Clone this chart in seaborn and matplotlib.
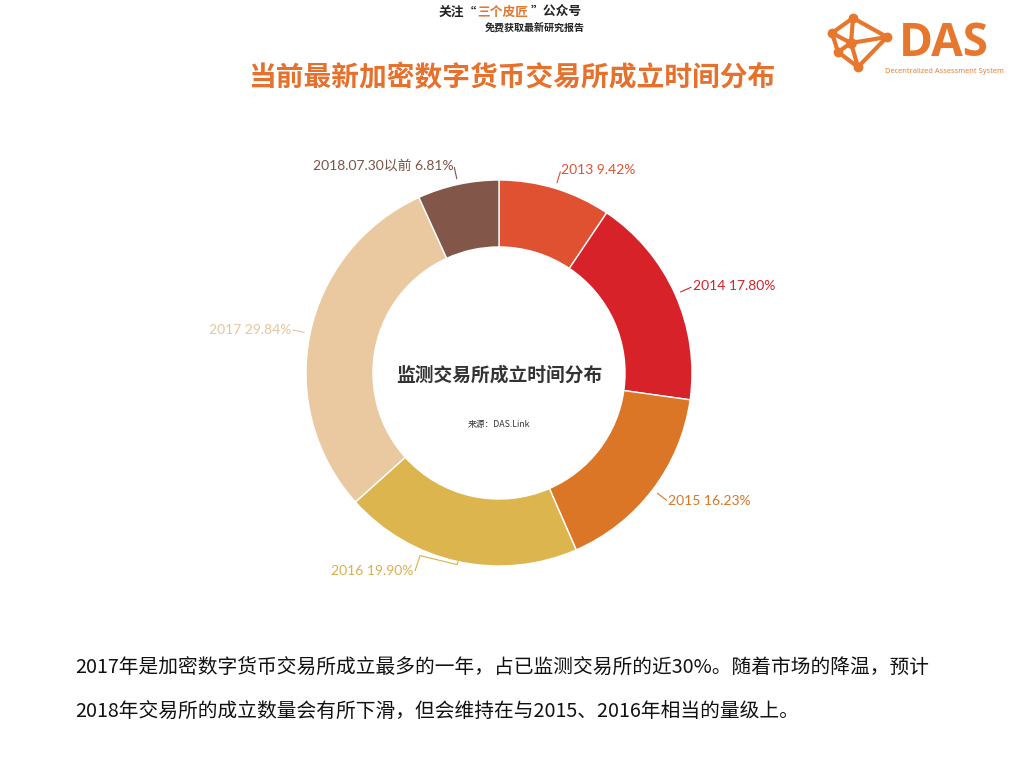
import numpy as np
import matplotlib
matplotlib.use("Agg")
import matplotlib.pyplot as plt
import seaborn as sns

# ---------------- data ----------------
categories = ["2013", "2014", "2015", "2016", "2017", "2018.07.30以前"]
shares = [9.42, 17.80, 16.23, 19.90, 29.84, 6.81]
slice_colors = ["#E05132", "#D62228", "#DB7627", "#DDB54F", "#EBC9A0", "#82574A"]
label_colors = ["#E05132", "#D62228", "#DB7627", "#D8B04E", "#E8C49C", "#7A5446"]

title = "当前最新加密数字货币交易所成立时间分布"
center_title = "监测交易所成立时间分布"
center_source = "来源：DAS.Link"
header_parts = ["关注“", "三个皮匠", "”公众号"]
header_line2 = "免费获取最新研究报告"
logo_word = "DAS"
logo_sub = "Decentralized Assessment System"
paragraph = [
    "2017年是加密数字货币交易所成立最多的一年，占已监测交易所的近30%。随着市场的降温，预计",
    "2018年交易所的成立数量会有所下滑，但会维持在与2015、2016年相当的量级上。",
]

# ---------------- style ----------------
sns.set_theme(style="white")
plt.rcParams["font.family"] = ["Noto Sans CJK SC", "DejaVu Sans"]

W, H = 1024, 779
fig = plt.figure(figsize=(W / 100, H / 100), dpi=100)
fig.patch.set_facecolor("white")

# overlay axes in pixel coordinates for page texts / logo
ov = fig.add_axes([0, 0, 1, 1])
ov.set_xlim(0, W)
ov.set_ylim(H, 0)
ov.axis("off")

ORANGE = "#E5712C"

# header
ov.text(477, 12, header_parts[0], ha="right", va="center", fontsize=9.2,
        fontweight="bold", color="#222222")
ov.text(477, 12, header_parts[1], ha="left", va="center", fontsize=9.2,
        fontweight="bold", color="#E0782E")
ov.text(531, 12, header_parts[2], ha="left", va="center", fontsize=9.2,
        fontweight="bold", color="#222222")
ov.text(585, 27, header_line2, ha="right", va="center", fontsize=7.2,
        fontweight="bold", color="#222222")

# title
ov.text(512, 78, title, ha="center", va="center", fontsize=20,
        fontweight="bold", color=ORANGE)

# logo icon
LOGO = "#E8772E"
nodes = {"t": (853, 18), "l": (832, 33), "r": (887, 37), "lb": (838, 52),
         "b": (858, 67), "c": (851, 43)}
edges = [("t", "l"), ("t", "r"), ("t", "c"), ("l", "c"), ("l", "lb"),
         ("lb", "b"), ("c", "r"), ("c", "b"), ("b", "r"), ("lb", "c")]
for a, b in edges:
    ov.plot([nodes[a][0], nodes[b][0]], [nodes[a][1], nodes[b][1]],
            color=LOGO, lw=3.0, solid_capstyle="round")
for k, (x, y) in nodes.items():
    ov.scatter([x], [y], s=50 if k != "c" else 60, color=LOGO, zorder=3, linewidths=0)
ov.text(944, 43, logo_word, ha="center", va="center", fontsize=33,
        fontweight="bold", color=LOGO, family=["Open Sans", "DejaVu Sans"])
ov.text(944, 71, logo_sub, ha="center", va="center", fontsize=5.4,
        color=LOGO, family=["Open Sans", "DejaVu Sans"])

# paragraph
ov.text(75, 668, paragraph[0], ha="left", va="center", fontsize=14.2, color="#111111")
ov.text(75, 712, paragraph[1], ha="left", va="center", fontsize=14.2, color="#111111")

# ---------------- donut ----------------
cx, cy, R = 499, 373, 193
ax = fig.add_axes([(cx - R) / W, (H - cy - R) / H, 2 * R / W, 2 * R / H])

wedges, _ = ax.pie(shares, colors=slice_colors, startangle=90, counterclock=False,
                   radius=1.0,
                   wedgeprops=dict(width=0.347, edgecolor="white", linewidth=1.0))
ax.set_xlim(-1, 1)
ax.set_ylim(-1, 1)
ax.set_aspect("auto")
ax.axis("off")

px = 1.0 / R  # one pixel in data units

for i, w in enumerate(wedges):
    ang = np.deg2rad((w.theta1 + w.theta2) / 2)
    c, s = np.cos(ang), np.sin(ang)
    txt = f"{categories[i]} {shares[i]:.2f}%"
    if i == 3:
        # bent leader line below the ring, label to the lower left
        x0, y0 = c, s
        xs = [x0, x0 - 1 * px, x0 - 38 * px, x0 - 43 * px]
        ys = [y0, y0 - 3 * px, y0 + 6 * px, y0 - 9 * px]
        ax.plot(xs, ys, color=label_colors[i], lw=0.8, clip_on=False)
        ax.text(xs[-1] - 2 * px, ys[-1] - 0 * px, txt, ha="right", va="center",
                fontsize=10, color=label_colors[i],
                family=["Lato", "Noto Sans CJK SC"])
    else:
        ha = "left" if c > 0 else "right"
        ax.plot([1.03 * c, 1.09 * c], [1.03 * s, 1.09 * s],
                color=label_colors[i], lw=0.8, clip_on=False)
        ax.text(1.1 * c, 1.1 * s, txt, ha=ha, va="center", fontsize=10,
                color=label_colors[i], family=["Lato", "Noto Sans CJK SC"])

ax.text(0, -0.01, center_title, ha="center", va="center", fontsize=13.5,
        fontweight="bold", color="#333333")
ax.text(0, -0.265, center_source, ha="center", va="center", fontsize=6.3,
        color="#333333")

fig.savefig("out.png", dpi=100, facecolor="white")
